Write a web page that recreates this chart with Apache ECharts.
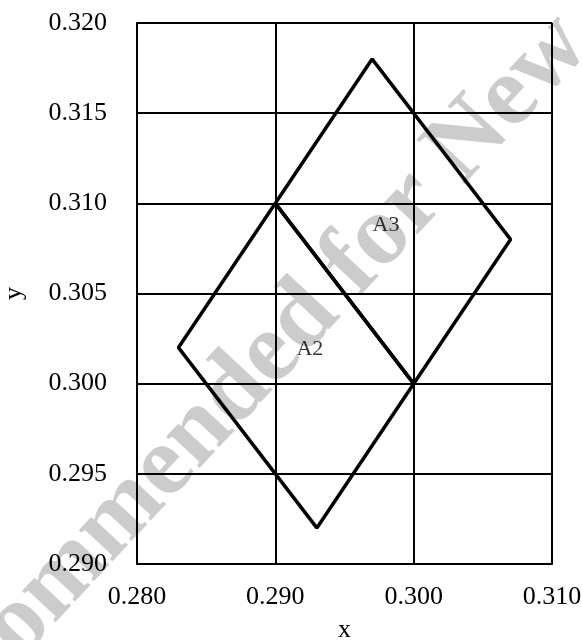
<!DOCTYPE html>
<html>
<head>
<meta charset="utf-8">
<script src="https://cdn.jsdelivr.net/npm/echarts@6/dist/echarts.min.js"></script>
<style>
  html, body { margin: 0; padding: 0; background: #fff; }
  #chart { width: 582px; height: 640px; }
</style>
</head>
<body>
<div id="chart"></div>
<script>
// 데이터
var regionA2 = [[0.290, 0.310], [0.283, 0.302], [0.293, 0.292], [0.300, 0.300], [0.290, 0.310]];
var regionA3 = [[0.290, 0.310], [0.297, 0.318], [0.307, 0.308], [0.300, 0.300], [0.290, 0.310]];
var regionLabels = [
  { name: 'A2', value: [0.2925, 0.3019] },
  { name: 'A3', value: [0.2980, 0.3088] }
];

var font = '"Liberation Serif", "Times New Roman", serif';
var chart = echarts.init(document.getElementById('chart'));

var option = {
  animation: false,
  backgroundColor: '#fff',
  // 워터마크
  graphic: [{
    type: 'text',
    x: -109,
    y: 761,
    rotation: 47 * Math.PI / 180,
    silent: true,
    z: -10,
    style: {
      text: 'Recommended for New Zealand',
      font: 'bold 100px ' + font,
      fill: '#cccccc',
      textAlign: 'left',
      textVerticalAlign: 'middle'
    }
  }],
  grid: { left: 137, right: 30, top: 23, bottom: 76, outerBoundsMode: 'none' },
  xAxis: {
    type: 'value',
    min: 0.28,
    max: 0.31,
    interval: 0.01,
    name: 'x',
    nameLocation: 'middle',
    nameGap: 53,
    nameTextStyle: { color: '#000', fontFamily: font, fontSize: 26 },
    axisLine: { show: true, lineStyle: { color: '#000', width: 2 } },
    axisTick: { show: false },
    axisLabel: {
      color: '#000', fontFamily: font, fontSize: 26, margin: 20,
      formatter: function (v) { return v.toFixed(3); }
    },
    splitLine: { show: true, lineStyle: { color: '#000', width: 2 } }
  },
  yAxis: {
    type: 'value',
    min: 0.29,
    max: 0.32,
    interval: 0.005,
    name: 'y',
    nameLocation: 'middle',
    nameGap: 110,
    nameTextStyle: { color: '#000', fontFamily: font, fontSize: 26 },
    axisLine: { show: true, lineStyle: { color: '#000', width: 2 } },
    axisTick: { show: false },
    axisLabel: {
      color: '#000', fontFamily: font, fontSize: 26, margin: 30,
      formatter: function (v) { return v.toFixed(3); }
    },
    splitLine: { show: true, lineStyle: { color: '#000', width: 2 } }
  },
  series: [
    {
      type: 'line', data: regionA2, symbol: 'none', z: 3,
      lineStyle: { color: '#000', width: 3.5 }
    },
    {
      type: 'line', data: regionA3, symbol: 'none', z: 3,
      lineStyle: { color: '#000', width: 3.5 }
    },
    {
      type: 'scatter', data: regionLabels, symbolSize: 0, z: 4,
      label: {
        show: true, position: 'inside', color: '#000',
        fontFamily: font, fontSize: 22,
        formatter: function (p) { return p.name; }
      }
    }
  ]
};

chart.setOption(option);
</script>
</body>
</html>
